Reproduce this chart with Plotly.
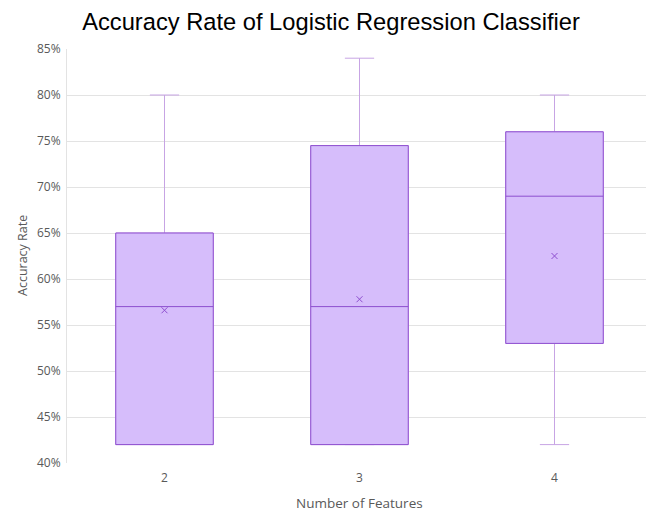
import plotly.graph_objects as go

categories = ["2", "3", "4"]
lower_fence = [0.42, 0.42, 0.42]
q1_vals = [0.42, 0.42, 0.53]
median_vals = [0.57, 0.57, 0.69]
q3_vals = [0.65, 0.745, 0.76]
upper_fence = [0.80, 0.84, 0.80]
mean_vals = [0.566, 0.578, 0.625]

y_ticks = [0.40, 0.45, 0.50, 0.55, 0.60, 0.65, 0.70, 0.75, 0.80, 0.85]

fill_color = "#d6bdfb"
line_color = "#8e4fcf"
whisker_color = "#c7a4e4"
text_gray = "#595959"

# page body has an 8px default margin, so the figure is sized to fill the rest
W, H = 646, 503

fig = go.Figure()

# whiskers (lighter) layer
fig.add_trace(go.Box(
    x=categories, q1=q1_vals, median=median_vals, q3=q3_vals,
    lowerfence=lower_fence, upperfence=upper_fence,
    fillcolor=fill_color, line=dict(color=whisker_color, width=1),
    width=0.5, whiskerwidth=0.3, boxpoints=False, hoverinfo="skip",
    showlegend=False,
))
# box body (darker outline)
fig.add_trace(go.Box(
    x=categories, q1=q1_vals, median=median_vals, q3=q3_vals,
    lowerfence=q1_vals, upperfence=q3_vals,
    fillcolor=fill_color, line=dict(color=line_color, width=1),
    width=0.5, whiskerwidth=0, boxpoints=False,
    showlegend=False,
))
fig.add_trace(go.Scatter(
    x=categories, y=mean_vals, mode="markers",
    marker=dict(symbol="x-thin", size=6, line=dict(color=line_color, width=1), color=line_color),
    showlegend=False,
))

fig.update_layout(
    width=W, height=H,
    margin=dict(l=59, r=2, t=41, b=48, autoexpand=False),
    paper_bgcolor="white", plot_bgcolor="white",
    boxmode="overlay",
    title=dict(text="Accuracy Rate of Logistic Regression Classifier",
               x=0.5, xanchor="center", yref="container", y=1 - 14 / H, yanchor="middle",
               font=dict(family="Liberation Sans, Arial", size=23.7, color="black")),
    font=dict(family="Open Sans, sans-serif", color=text_gray),
    xaxis=dict(
        automargin=False, type="category", range=[-0.5, 2.5],
        tickfont=dict(size=12, color=text_gray), ticklabelstandoff=6,
        showgrid=False, zeroline=False, showline=False, ticks="",
    ),
    yaxis=dict(
        automargin=False,
        range=[0.40, 0.85], tickvals=y_ticks, tickformat=".0%",
        tickfont=dict(size=12, color=text_gray), ticklabelstandoff=3,
        showgrid=True, gridcolor="#e3e3e3", gridwidth=1,
        zeroline=False, showline=True, linecolor="#e3e3e3", linewidth=1, ticks="",
    ),
    annotations=[
        dict(text="Number of Features", xref="paper", yref="paper",
             x=0.5, y=-40 / 414, xanchor="center", yanchor="middle", showarrow=False,
             font=dict(size=13.5, color=text_gray)),
        dict(text="Accuracy Rate", xref="paper", yref="paper",
             x=-45 / 585, y=0.5, xanchor="center", yanchor="middle", textangle=-90,
             showarrow=False, font=dict(size=12.5, color=text_gray)),
    ],
)

fig.write_html("out.html")
